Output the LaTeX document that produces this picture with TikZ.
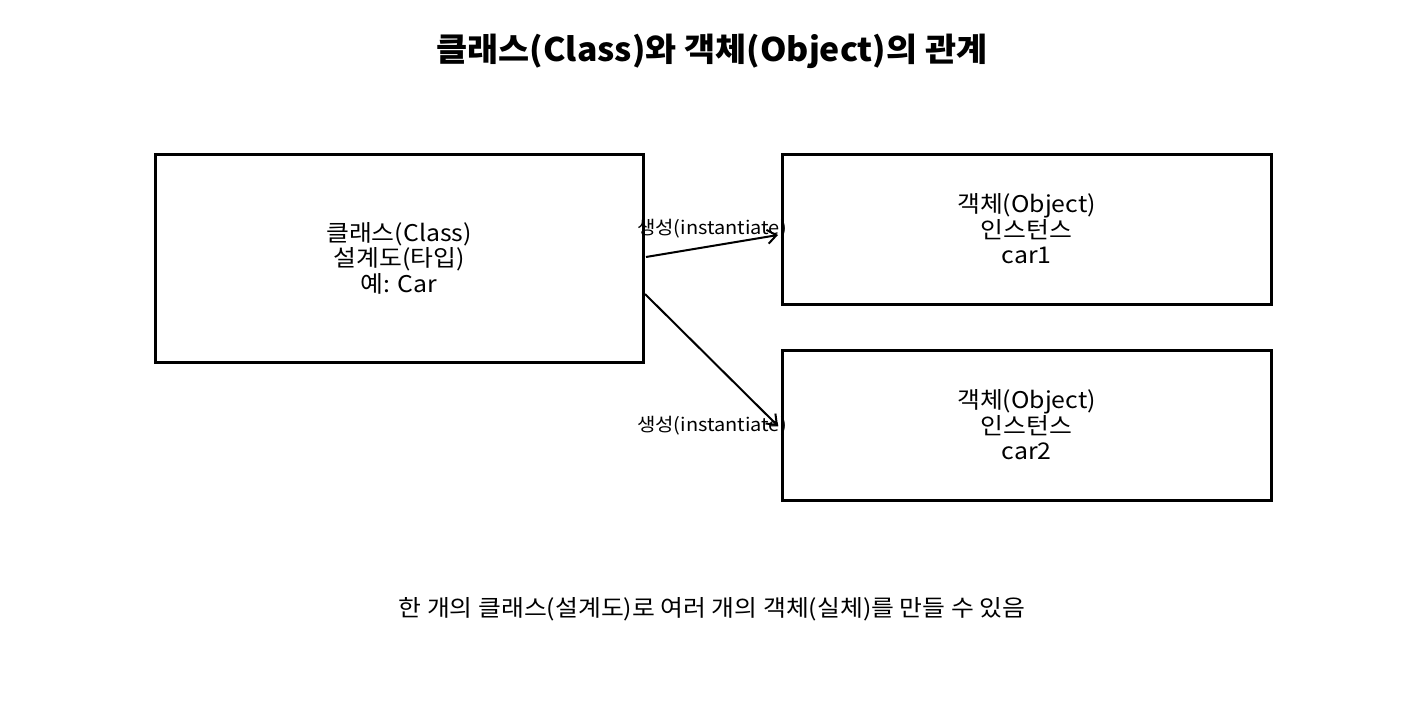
\documentclass[tikz,border=0pt]{standalone}
\usepackage{fontspec}
\setmainfont{Noto Sans CJK KR}[FakeStretch=1.08]
\newfontfamily\titlefont{Noto Sans CJK KR}[FakeStretch=1.04]
\usetikzlibrary{arrows.meta}
\begin{document}
\begin{tikzpicture}[x=1pt,y=-1pt,
  box/.style={draw=black,line width=3pt,minimum width=#1,align=center,inner sep=0pt,
    font=\fontsize{23}{25.5}\selectfont},
  conn/.style={line width=2pt,-{Straight Barb[length=9pt,width=14pt,line width=2pt]}},
  lbl/.style={font=\fontsize{18.5}{20}\selectfont,inner sep=0pt},
]
\useasboundingbox (0,0) rectangle (1425,723);
\node[font=\titlefont\fontsize{32.5}{36}\selectfont\bfseries] (title) at (712,51) {클래스(Class)와 객체(Object)의 관계};
\node[box=488pt,minimum height=208pt] (cls) at (399,258) {클래스(Class)\\설계도(타입)\\예: Car};
\node[box=489pt,minimum height=150pt] (o1) at (1026.5,229) {객체(Object)\\인스턴스\\car1};
\node[box=489pt,minimum height=150pt] (o2) at (1026.5,425) {객체(Object)\\인스턴스\\car2};
\coordinate (s1) at (646,257);
\coordinate (e1) at (778,235);
\coordinate (s2) at (645,294);
\coordinate (e2) at (778,426);
\draw[conn] (s1) -- (e1);
\draw[conn] (s2) -- (e2);
\node[lbl] (l1) at (712,229) {생성(instantiate)};
\node[lbl] (l2) at (712,426) {생성(instantiate)};
\node[font=\fontsize{23}{25}\selectfont] (foot) at (712,609) {한 개의 클래스(설계도)로 여러 개의 객체(실체)를 만들 수 있음};
\end{tikzpicture}
\end{document}
